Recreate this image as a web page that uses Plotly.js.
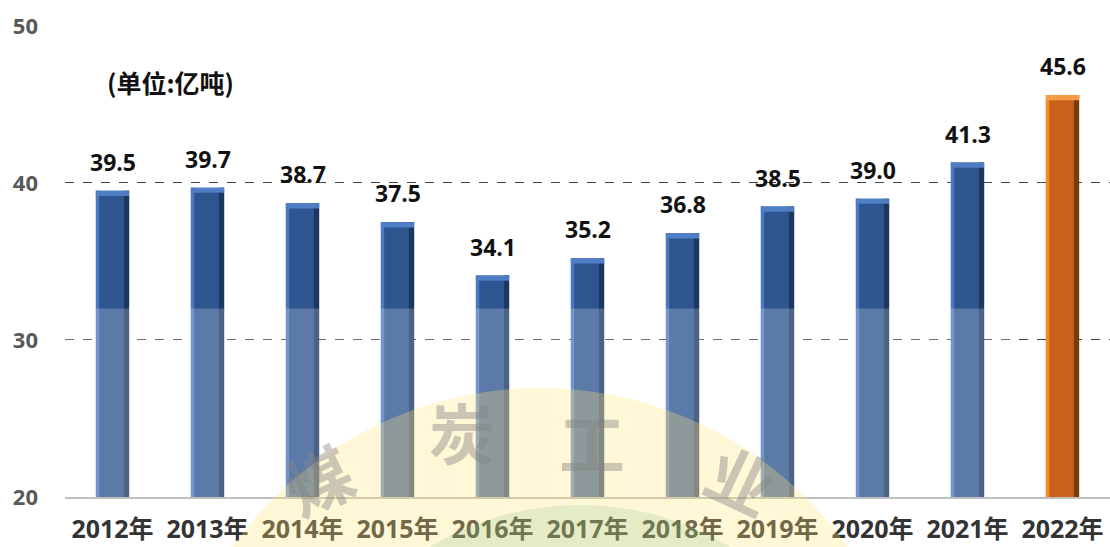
<!DOCTYPE html>
<html>
<head>
<meta charset="utf-8">
<script src="https://cdn.plot.ly/plotly-3.0.1.min.js"></script>
<style>
html,body{margin:0;padding:0;background:#fff;}
#chart{width:1110px;height:547px;}
</style>
</head>
<body>
<div id="chart"></div>
<script>
// ---- data ----
const years = ["2012年","2013年","2014年","2015年","2016年","2017年","2018年","2019年","2020年","2021年","2022年"];
const output = [39.5, 39.7, 38.7, 37.5, 34.1, 35.2, 36.8, 38.5, 39.0, 41.3, 45.6];
const labels = ["39.5","39.7","38.7","37.5","34.1","35.2","36.8","38.5","39.0","41.3","45.6"];
const yTicks = [20, 30, 40, 50];
const unitText = "(单位:亿吨)";
const watermark = ["煤","炭","工","业"];

// ---- styling ----
const last = years.length - 1;
const pick = (blue, orange) => years.map((_, i) => i === last ? orange : blue);
const W = 0.35, CAP = 0.33;
const FONT = "'Open Sans', 'Noto Sans CJK SC', sans-serif";

const common = {x: years, type: 'bar', hoverinfo: 'skip', showlegend: false};
const face = Object.assign({}, common, {
  y: output, width: W, offset: -W/2,
  marker: {color: pick('#2F5590', '#C9611B'), line: {width: 0}}
});
const leftHi = Object.assign({}, common, {
  y: output, width: 0.035, offset: -W/2,
  marker: {color: pick('#4A78C2', '#F5892C'), line: {width: 0}}
});
const rightSh = Object.assign({}, common, {
  y: output, width: 0.055, offset: W/2 - 0.055,
  marker: {color: pick('#1D3761', '#7A3B0E'), line: {width: 0}}
});
const cap = Object.assign({}, common, {
  y: output.map(() => CAP), base: output.map(v => v - CAP), width: W, offset: -W/2,
  marker: {color: pick('#4F7EC6', '#F89B45'), line: {width: 0}}
});

const px = x => (x - 65) / 1045;
const py = y => (497 - y) / 472;

const annotations = [];
// faint watermark characters (drawn first, beneath the labels)
const wmPos = [[318, 478, -25], [462, 430, 0], [592, 440, 0], [742, 478, 25]];
watermark.forEach((ch, i) => annotations.push({
  x: px(wmPos[i][0]), y: py(wmPos[i][1]), xref: 'paper', yref: 'paper', text: '<b>' + ch + '</b>',
  showarrow: false, textangle: wmPos[i][2], xanchor: 'center', yanchor: 'middle',
  font: {family: "'Noto Sans CJK SC', sans-serif", size: 66, color: 'rgba(130,130,130,0.42)'}
}));
years.forEach((c, i) => annotations.push({
  x: c, y: output[i], xref: 'x', yref: 'y', text: '<b>' + labels[i] + '</b>',
  showarrow: false, xanchor: 'center', yanchor: 'bottom', yshift: 11,
  font: {family: FONT, size: 23, color: '#111'}
}));
annotations.push({
  x: px(170), y: py(82), xref: 'paper', yref: 'paper', text: '<b>' + unitText + '</b>',
  showarrow: false, xanchor: 'center', yanchor: 'middle',
  font: {family: "'Noto Sans CJK SC', sans-serif", size: 25, color: '#111'}
});

const shapes = [
  {type: 'rect', xref: 'x', yref: 'y', x0: -0.5, x1: last - 0.5, y0: 20, y1: 32,
   fillcolor: 'rgba(255,255,255,0.22)', line: {width: 0}, layer: 'above'},
  {type: 'circle', xref: 'paper', yref: 'paper',
   x0: px(540 - 377), x1: px(540 + 377), y0: py(388), y1: py(765 + 377),
   fillcolor: 'rgba(255,228,120,0.3)', line: {width: 0}, layer: 'above'},
  {type: 'circle', xref: 'paper', yref: 'paper',
   x0: px(580 - 290), x1: px(580 + 290), y0: py(505), y1: py(505 + 580),
   fillcolor: 'rgba(110,190,120,0.18)', line: {width: 0}, layer: 'above'}
];

const layout = {
  width: 1110, height: 547,
  margin: {l: 65, r: 0, t: 25, b: 50},
  paper_bgcolor: '#fff', plot_bgcolor: '#fff',
  barmode: 'overlay',
  xaxis: {
    type: 'category', showgrid: false, showline: true, linecolor: '#BFBFBF', linewidth: 1.5,
    ticks: '', ticklabelstandoff: 9,
    tickfont: {family: FONT, size: 25, color: '#333', weight: 'bold'}
  },
  yaxis: {
    range: [20, 50.06], tickvals: yTicks, ticktext: yTicks.map(String),
    showgrid: true, gridcolor: '#444', griddash: 'dash', gridwidth: 1,
    zeroline: false, showline: false, ticks: '', ticklabelstandoff: 26,
    tickfont: {family: FONT, size: 22, color: '#595959', weight: 'bold'}
  },
  annotations: annotations,
  shapes: shapes
};

Plotly.newPlot('chart', [face, leftHi, rightSh, cap], layout, {displayModeBar: false, staticPlot: true});
</script>
</body>
</html>
